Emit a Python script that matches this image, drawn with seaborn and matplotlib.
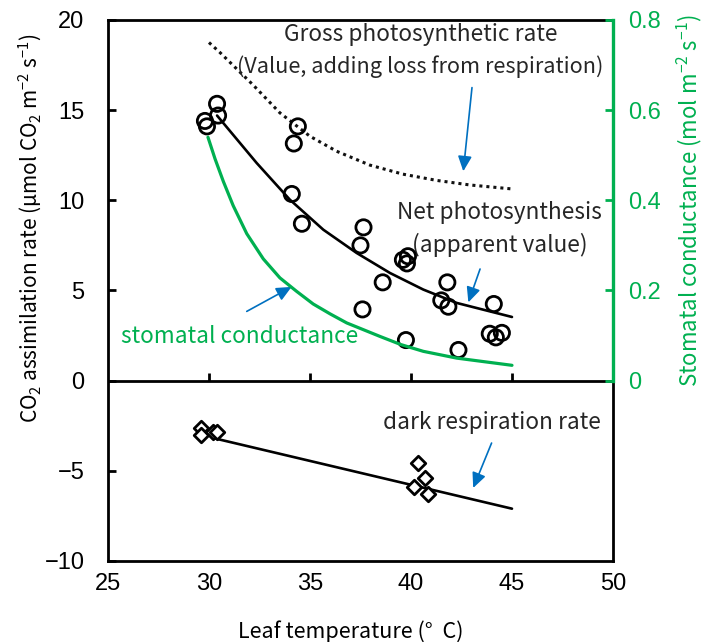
import matplotlib
matplotlib.use("Agg")
import matplotlib.pyplot as plt
import seaborn as sns

# measured net photosynthesis (circles)
net_temp = [29.8, 29.9, 30.4, 30.45, 34.4, 34.2, 34.1, 34.6, 37.65, 37.5, 37.6, 38.6,
            39.6, 39.85, 39.8, 39.75, 41.8, 41.5, 41.85, 42.35, 44.1, 43.9, 44.2, 44.5]
net_rate = [14.4, 14.1, 15.35, 14.7, 14.1, 13.15, 10.35, 8.7, 8.5, 7.5, 3.95, 5.45,
            6.7, 6.9, 6.5, 2.25, 5.45, 4.45, 4.1, 1.7, 4.25, 2.6, 2.4, 2.65]

# dark respiration (diamonds)
resp_temp = [29.6, 29.6, 30.2, 30.4, 40.35, 40.7, 40.15, 40.85]
resp_rate = [-2.6, -3.0, -2.85, -2.85, -4.55, -5.4, -5.9, -6.3]

# curves
net_fit_temp = [30.4, 32.36, 34.0, 35.66, 37.31, 38.96, 40.61, 42.26, 45.0]
net_fit_rate = [14.7, 12.07, 10.04, 8.37, 7.08, 5.97, 5.05, 4.31, 3.53]

gross_temp = [30.0, 30.54, 32.18, 33.51, 35.0, 36.32, 37.97, 39.6, 41.29, 42.92, 45.0]
gross_rate = [18.75, 18.2, 16.4, 14.85, 13.55, 12.72, 11.95, 11.45, 11.1, 10.85, 10.63]

gs_temp = [29.95, 30.3, 30.71, 31.2, 31.87, 32.69, 33.51, 34.34, 35.16, 36.0, 36.82,
           37.7, 38.47, 39.5, 40.61, 42.26, 45.0]
gs_value = [0.54, 0.492, 0.442, 0.388, 0.326, 0.27, 0.228, 0.198, 0.17, 0.148, 0.128,
            0.112, 0.098, 0.08, 0.065, 0.05, 0.034]

resp_fit_temp = [30.2, 45.0]
resp_fit_rate = [-3.18, -7.1]

x_ticks = [25, 30, 35, 40, 45, 50]
y_ticks = [-10, -5, 0, 5, 10, 15, 20]
gs_ticks = [0, 0.2, 0.4, 0.6, 0.8]
gs_tick_labels = ["0", "0.2", "0.4", "0.6", "0.8"]

GREEN = "#00B050"
BLUE = "#0070C0"

sns.set_theme(style="white")
plt.rcParams["font.family"] = ["Noto Sans CJK JP", "DejaVu Sans"]
plt.rcParams["mathtext.fontset"] = "custom"
plt.rcParams["mathtext.rm"] = "Noto Sans CJK JP"
plt.rcParams["mathtext.it"] = "Noto Sans CJK JP"
plt.rcParams["mathtext.bf"] = "Noto Sans CJK JP"

fig = plt.figure(figsize=(7.08, 6.42), dpi=100)
ax = fig.add_axes([0.1525, 0.1262, 0.7133, 0.8427])

# zero line with small upward tick marks at the x ticks
ax.axhline(0, color="black", lw=2, zorder=2)
ax.vlines(x_ticks[1:-1], 0, 0.4, color="black", lw=2, zorder=2)

# curves
sns.lineplot(x=gross_temp, y=gross_rate, ax=ax, color="#111111", lw=2.2,
             linestyle=(0, (1, 1.3)), sort=False, estimator=None)
sns.lineplot(x=net_fit_temp, y=net_fit_rate, ax=ax, color="black", lw=1.9,
             sort=False, estimator=None)
sns.lineplot(x=resp_fit_temp, y=resp_fit_rate, ax=ax, color="black", lw=1.9,
             sort=False, estimator=None)

# points
sns.scatterplot(x=net_temp, y=net_rate, ax=ax, marker="o", s=120,
                facecolor="none", edgecolor="black", linewidth=2.0, zorder=4)
sns.scatterplot(x=resp_temp, y=resp_rate, ax=ax, marker="D", s=55,
                facecolor="white", edgecolor="black", linewidth=2.0, zorder=4)

ax.set_xlim(25, 50)
ax.set_ylim(-10, 20)
ax.set_xticks(x_ticks)
ax.set_yticks(y_ticks)
ax.tick_params(axis="x", length=0, pad=9, labelsize=17, colors="black")
ax.tick_params(axis="y", direction="in", length=6, width=2, pad=17,
               labelsize=17, colors="black", left=True)
for lbl in ax.get_xticklabels() + ax.get_yticklabels():
    lbl.set_family("Liberation Sans")
for sp in ax.spines.values():
    sp.set_color("black")
    sp.set_linewidth(2)

ax.set_xlabel("Leaf temperature (°  C)", fontsize=15.5, color="black")
ax.xaxis.set_label_coords(0.48, -0.131)
ax.xaxis.label.set_va("center")
ax.set_ylabel(r"CO$_2$ assimilation rate (μmol CO$_2$ m$^{-2}$ s$^{-1}$)",
              fontsize=15, color="black")
ax.yaxis.set_label_coords(-0.154, 0.614)
ax.yaxis.label.set_va("center")

# stomatal conductance on right axis
ax2 = ax.twinx()
sns.lineplot(x=gs_temp, y=gs_value, ax=ax2, color=GREEN, lw=2.3,
             sort=False, estimator=None)
ax2.set_ylim(-0.4, 0.8)
ax2.set_yticks(gs_ticks)
ax2.set_yticklabels(gs_tick_labels)
ax2.tick_params(axis="y", direction="in", length=6, width=2, pad=11,
                labelsize=17, colors=GREEN, right=True)
for lbl in ax2.get_yticklabels():
    lbl.set_family("Liberation Sans")
for s in ["left", "top", "bottom"]:
    ax2.spines[s].set_visible(False)
ax2.spines["right"].set_color(GREEN)
ax2.spines["right"].set_linewidth(2.4)
ax2.spines["right"].set_bounds(0, 0.8)
ax2.set_ylabel("Stomatal conductance (mol m$^{-2}$ s$^{-1}$)", color=GREEN, fontsize=16)
ax2.yaxis.set_label_coords(1.152, 0.667)
ax2.yaxis.label.set_va("center")

# annotations
fs = 16.3
ax.text(40.5, 19.2, "Gross photosynthetic rate", ha="center", va="center", fontsize=fs)
ax.text(40.45, 17.42, "(Value, adding loss from respiration)", ha="center", va="center", fontsize=15.6)
ax.text(44.4, 9.32, "Net photosynthesis", ha="center", va="center", fontsize=fs)
ax.text(44.4, 7.54, "(apparent value)", ha="center", va="center", fontsize=fs)
ax.text(31.52, 2.46, "stomatal conductance", ha="center", va="center", fontsize=fs, color=GREEN)
ax.text(44.0, -2.33, "dark respiration rate", ha="center", va="center", fontsize=fs)

arrow = dict(arrowstyle="-|>,head_length=0.65,head_width=0.3", color=BLUE, lw=1.2,
             mutation_scale=14, shrinkA=0, shrinkB=0)
ax.annotate("", xy=(42.59, 11.61), xytext=(43.02, 16.25), arrowprops=arrow)
ax.annotate("", xy=(42.84, 4.34), xytext=(43.42, 6.19), arrowprops=arrow)
ax.annotate("", xy=(34.09, 5.2), xytext=(31.87, 3.84), arrowprops=arrow)
ax.annotate("", xy=(43.08, -5.95), xytext=(43.99, -3.46), arrowprops=arrow)

fig.savefig("out.png", dpi=100)
